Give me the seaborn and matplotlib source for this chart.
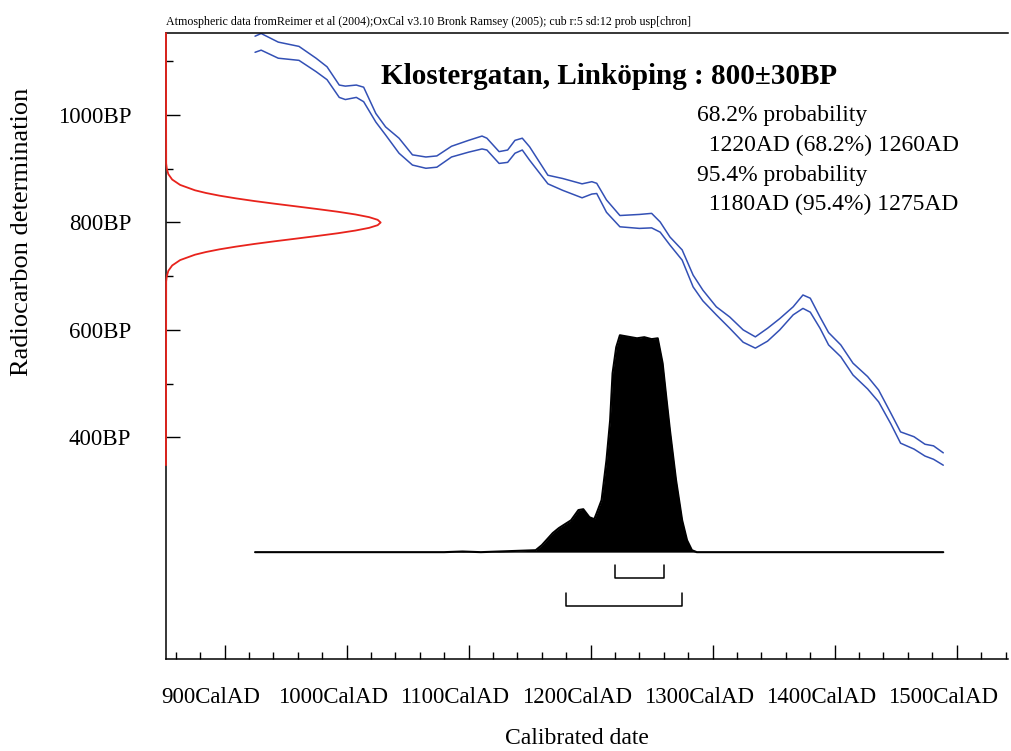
import numpy as np
import pandas as pd
import matplotlib
matplotlib.use('Agg')
import matplotlib.pyplot as plt
import matplotlib.transforms as mtransforms
import seaborn as sns

# calibration curve (upper / lower band)
cal_year = [925, 930, 944, 961, 975, 984, 994, 999, 1008, 1014, 1024, 1032, 1043, 1054,
            1065, 1074, 1086, 1100, 1111, 1115, 1125, 1132, 1138, 1144, 1150, 1165, 1177,
            1193, 1201, 1205, 1213, 1224, 1240, 1250, 1257, 1265, 1275, 1284, 1292, 1303,
            1314, 1325, 1335, 1345, 1355, 1366, 1374, 1380, 1388, 1395, 1405, 1415, 1427,
            1436, 1446, 1454, 1465, 1474, 1481, 1489]
cal_upper = [1147, 1152, 1136, 1128, 1106, 1090, 1056, 1054, 1056, 1052, 1003, 978, 957, 926,
             922, 924, 942, 953, 961, 957, 932, 935, 953, 957, 941, 888, 882,
             872, 876, 873, 842, 813, 815, 817, 801, 773, 749, 702, 674, 643,
             624, 600, 587, 603, 621, 643, 665, 659, 624, 595, 572, 538, 513,
             488, 445, 410, 401, 387, 384, 371]
cal_lower = [1117, 1121, 1106, 1102, 1081, 1066, 1033, 1029, 1033, 1025, 987, 963, 929, 907,
             901, 903, 922, 931, 937, 935, 910, 912, 929, 935, 916, 872, 860,
             846, 853, 854, 819, 792, 789, 790, 782, 758, 730, 680, 654, 628,
             603, 577, 566, 579, 600, 628, 640, 633, 603, 572, 550, 516, 490,
             466, 425, 389, 378, 365, 359, 348]

# calibrated probability (relative to max)
prob_year = [925, 1080, 1095, 1110, 1155, 1160, 1169, 1174, 1184, 1190, 1194, 1199, 1203, 1205,
             1209, 1213, 1216, 1218, 1221, 1224, 1238, 1244, 1250, 1255, 1259, 1262, 1265,
             1270, 1275, 1279, 1283, 1287, 1489]
prob_rel = [0.0, 0.0, 0.003, 0.0, 0.009, 0.032, 0.088, 0.111, 0.147, 0.194, 0.198, 0.161, 0.152, 0.18,
            0.24, 0.424, 0.608, 0.825, 0.945, 1.0, 0.986, 0.991, 0.982, 0.986, 0.871, 0.714, 0.562,
            0.332, 0.147, 0.055, 0.009, 0.0, 0.0]

# radiocarbon measurement 800+-30 BP (relative density)
rc_bp = [348, 690, 700, 710, 720, 730, 740, 745, 750, 755, 760, 765, 770, 775, 780, 785, 790, 795,
         800, 805, 810, 815, 820, 825, 830, 835, 840, 845, 850, 855, 860, 870, 880, 890, 900, 910, 1153]
rc_dens = [0.0, 0.001, 0.004, 0.011, 0.029, 0.066, 0.135, 0.186, 0.249, 0.325, 0.411, 0.506, 0.607,
           0.706, 0.801, 0.882, 0.946, 0.986, 1.0, 0.986, 0.946, 0.882, 0.801, 0.706, 0.607, 0.506,
           0.411, 0.325, 0.249, 0.186, 0.135, 0.066, 0.029, 0.011, 0.004, 0.001, 0.0]

# probability ranges
ranges_68 = [(1220, 1260)]
ranges_95 = [(1180, 1275)]

x_ticks = [900, 1000, 1100, 1200, 1300, 1400, 1500]
x_labels = ['900CalAD', '1000CalAD', '1100CalAD', '1200CalAD', '1300CalAD', '1400CalAD', '1500CalAD']
y_ticks = [400, 600, 800, 1000]
y_labels = ['400BP', '600BP', '800BP', '1000BP']

sns.set_theme(style='white')
plt.rcParams['font.family'] = ['Liberation Serif', 'DejaVu Serif']
plt.rcParams['text.color'] = 'black'

fig = plt.figure(figsize=(10.12, 7.51), dpi=100)
ax = fig.add_axes([0.164, 0.1225, 0.832, 0.8336])

cal = pd.DataFrame({'year': cal_year, 'upper': cal_upper, 'lower': cal_lower})
blue = '#3350b5'
sns.lineplot(data=cal, x='year', y='upper', color=blue, lw=1.1, estimator=None, ax=ax)
sns.lineplot(data=cal, x='year', y='lower', color=blue, lw=1.1, estimator=None, ax=ax)

# probability distribution
base, scale = 186, 404
py = base + np.array(prob_rel) * scale
ax.fill_between(prob_year, base, py, color='black', lw=0)
ax.plot(prob_year, py, color='black', lw=1.5)

# range brackets
for (a, b) in ranges_68:
    ax.plot([a, a, b, b], [162, 138, 138, 162], color='black', lw=1.1)
for (a, b) in ranges_95:
    ax.plot([a, a, b, b], [110, 86, 86, 110], color='black', lw=1.1)

# measurement on the y axis
trans = mtransforms.blended_transform_factory(ax.transAxes, ax.transData)
ax.plot(np.array(rc_dens) * 0.255, rc_bp, color='#e8231c', lw=1.3, transform=trans,
        clip_on=False, zorder=5)

ax.set_xlim(852, 1542)
ax.set_ylim(-13, 1153)

ax.set_xticks(x_ticks)
ax.set_xticklabels(x_labels)
ax.set_xticks([v for v in range(860, 1541, 20) if v % 100 != 0], minor=True)
ax.set_yticks(y_ticks)
ax.set_yticklabels(y_labels)
ax.set_yticks([500, 700, 900, 1100], minor=True)

ax.tick_params(axis='both', which='major', direction='in', length=10, width=1,
               color='black', labelsize=16.5, labelcolor='black')
ax.tick_params(axis='both', which='minor', direction='in', length=5, width=1, color='black')
ax.tick_params(axis='y', which='major', pad=25)
ax.tick_params(axis='x', which='major', pad=20)
ax.tick_params(bottom=True, left=True, which='both')

shift = mtransforms.ScaledTranslation(-14 / 100, 0, fig.dpi_scale_trans)
for lab in ax.get_xticklabels():
    lab.set_transform(lab.get_transform() + shift)

for side in ['left', 'bottom', 'top']:
    ax.spines[side].set_color('black')
    ax.spines[side].set_linewidth(1.1)
ax.spines['right'].set_visible(False)
ax.set_xlabel('')
ax.set_ylabel('')
ax.grid(False)

fig.text(22 / 1012, 1 - 232 / 751, 'Radiocarbon determination', rotation=90,
         ha='center', va='center', fontsize=19, color='black')
fig.text(577 / 1012, 1 - 739 / 751, 'Calibrated date', ha='center', va='center',
         fontsize=17, color='black')
fig.text(166 / 1012, 1 - 28 / 751,
         'Atmospheric data fromReimer et al (2004);OxCal v3.10 Bronk Ramsey (2005); cub r:5 sd:12 prob usp[chron]',
         ha='left', va='bottom', fontsize=8.6, color='black')
fig.text(381 / 1012, 1 - 76 / 751, 'Klostergatan, Linköping : 800±30BP', ha='left', va='center',
         fontsize=21, fontweight='bold', color='black')

info = ['68.2% probability', '  1220AD (68.2%) 1260AD', '95.4% probability', '  1180AD (95.4%) 1275AD']
for i, line in enumerate(info):
    fig.text(697 / 1012, 1 - (116 + i * 29.5) / 751, line, ha='left', va='center',
             fontsize=17, color='black')

plt.savefig('out.png', dpi=100)
plt.close()
